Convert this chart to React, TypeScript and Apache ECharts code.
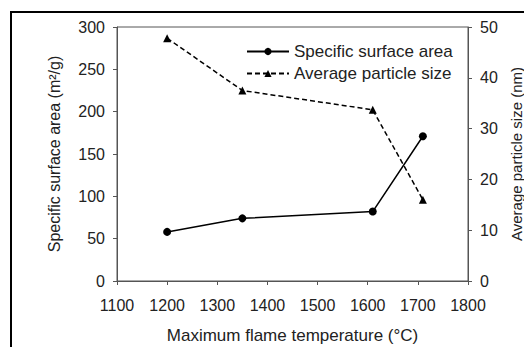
import React, { useEffect, useRef } from "react";
import * as echarts from "echarts";

const temps = [1200, 1350, 1610, 1710];
const surfaceArea = [58, 74, 82, 171];
const particleSize = [47.8, 37.5, 33.7, 16.0];
const seriesNames = ["Specific surface area", "Average particle size"];
const xTitle = "Maximum flame temperature (°C)";
const yLeftTitle = "Specific surface area (m²/g)";
const yRightTitle = "Average particle size (nm)";

export default function App() {
  const ref = useRef<HTMLDivElement>(null);
  useEffect(() => {
    if (!ref.current) return;
    const chart = echarts.init(ref.current, null, { renderer: "svg" });
    const font = "Liberation Sans, Arial, sans-serif";
    const axisCol = "#555";
    const txt = "#222";
    chart.setOption({
      animation: false,
      backgroundColor: "#fff",
      textStyle: { fontFamily: font },
      graphic: [
        {
          type: "rect",
          shape: { x: 11, y: 12, width: 1000, height: 1000 },
          style: { fill: "none", stroke: "#000", lineWidth: 2 },
          silent: true,
        },
      ],
      grid: {
        left: 117,
        right: 56,
        top: 27,
        bottom: 66,
        show: true,
        borderColor: axisCol,
        borderWidth: 1,
        containLabel: false,
        outerBoundsMode: "none",
      },
      legend: {
        orient: "vertical",
        left: 241,
        top: 38,
        itemWidth: 42,
        itemHeight: 9,
        itemGap: 5,
        textStyle: { fontFamily: font, fontSize: 17, color: txt, padding: [0, 0, 0, 0] },
        data: seriesNames,
      },
      xAxis: {
        type: "value",
        min: 1100,
        max: 1800,
        interval: 100,
        name: xTitle,
        nameLocation: "middle",
        nameGap: 46,
        nameTextStyle: { fontFamily: font, fontSize: 17, color: txt },
        axisLine: { lineStyle: { color: axisCol, width: 1 } },
        axisTick: { inside: false, length: 4, lineStyle: { color: axisCol } },
        axisLabel: {
          margin: 16,
          fontFamily: font,
          fontSize: 16,
          color: txt,
          formatter: (v: number) => String(v),
        },
        splitLine: { show: false },
      },
      yAxis: [
        {
          type: "value",
          min: 0,
          max: 300,
          interval: 50,
          position: "left",
          name: yLeftTitle,
          nameLocation: "middle",
          nameGap: 55,
          nameRotate: 90,
          nameTextStyle: { fontFamily: font, fontSize: 16, color: txt },
          axisLine: { show: true, lineStyle: { color: axisCol, width: 1 } },
          axisTick: { show: true, length: 4, lineStyle: { color: axisCol } },
          axisLabel: { margin: 12, fontFamily: font, fontSize: 16, color: txt },
          splitLine: { show: false },
        },
        {
          type: "value",
          min: 0,
          max: 50,
          interval: 10,
          position: "right",
          name: yRightTitle,
          nameLocation: "middle",
          nameGap: 40,
          nameRotate: 90,
          nameTextStyle: { fontFamily: font, fontSize: 15, color: txt },
          axisLine: { show: true, lineStyle: { color: axisCol, width: 1 } },
          axisTick: { show: true, length: 4, lineStyle: { color: axisCol } },
          axisLabel: { margin: 12, fontFamily: font, fontSize: 16, color: txt },
          splitLine: { show: false },
        },
      ],
      series: [
        {
          name: seriesNames[0],
          type: "line",
          yAxisIndex: 0,
          data: temps.map((t, i) => [t, surfaceArea[i]]),
          symbol: "circle",
          symbolSize: 8,
          itemStyle: { color: "#000" },
          lineStyle: { color: "#000", width: 1.5 },
        },
        {
          name: seriesNames[1],
          type: "line",
          yAxisIndex: 1,
          data: temps.map((t, i) => [t, particleSize[i]]),
          symbol: "triangle",
          symbolSize: 8,
          itemStyle: { color: "#000" },
          lineStyle: { color: "#000", width: 1.5, type: [5, 3] },
        },
      ],
    });
    return () => chart.dispose();
  }, []);
  return (
    <div
      ref={ref}
      style={{ position: "fixed", left: 0, top: 0, width: 524, height: 347 }}
    />
  );
}
